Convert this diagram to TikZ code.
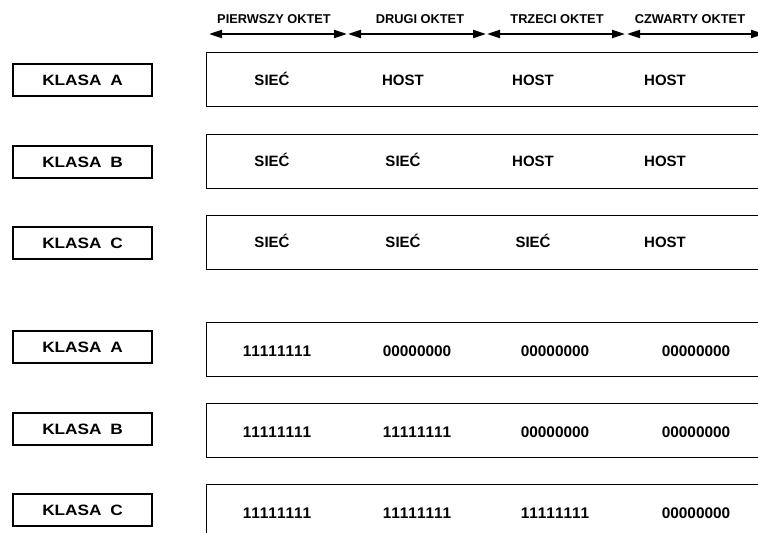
\documentclass[tikz,border=0pt]{standalone}
\usepackage{fontspec}
\setmainfont{Liberation Sans}
\usetikzlibrary{arrows.meta}
\newcommand{\klasatxt}[1]{\scalebox{1.15}[1]{KLASA\hspace{0.5em}#1}}
\newcommand{\dg}[1]{\makebox[0.556em][c]{#1}}
\newcommand{\octbits}[8]{\dg{#1}\dg{#2}\dg{#3}\dg{#4}\dg{#5}\dg{#6}\dg{#7}\dg{#8}}
\begin{document}
\begin{tikzpicture}[x=1pt,y=-1pt,
  klasa/.style={draw,line width=2.6pt,minimum width=139pt,minimum height=32pt,inner sep=0pt,font=\fontsize{15}{17}\selectfont\bfseries},
  field/.style={draw,line width=1.3pt,anchor=north west,minimum width=600pt,minimum height=54pt,inner sep=0pt},
  txt/.style={font=\fontsize{15}{17}\selectfont\bfseries,inner sep=0pt,anchor=base},
  bin/.style={font=\fontsize{15.4}{17}\selectfont\bfseries,inner sep=0pt,anchor=base},
  oct/.style={font=\fontsize{12.8}{14}\selectfont\bfseries,inner sep=0pt,anchor=base},
  octarrow/.style={line width=2pt,{Triangle[length=13pt,width=8pt]}-{Triangle[length=13pt,width=8pt]}}]
\clip (0,0) rectangle (758,533);
\fill[white] (0,0) rectangle (758,533);
% octet header
\coordinate (a0) at (209,34);
\coordinate (a1) at (347,34);
\coordinate (b0) at (348,34);
\coordinate (b1) at (486,34);
\coordinate (c0) at (487,34);
\coordinate (c1) at (625,34);
\coordinate (d0) at (627,34);
\coordinate (d1) at (764,34);
\draw[octarrow] (a0) -- (a1);
\draw[octarrow] (b0) -- (b1);
\draw[octarrow] (c0) -- (c1);
\draw[octarrow] (d0) -- (d1);
\node[oct] (o1) at (274,23) {PIERWSZY OKTET};
\node[oct] (o2) at (420,23) {DRUGI OKTET};
\node[oct] (o3) at (557,23) {TRZECI OKTET};
\node[oct] (o4) at (690,23) {CZWARTY OKTET};
% class labels
\node[klasa] (k1) at (82.5,80) {\klasatxt{A}};
\node[klasa] (k2) at (82.5,162) {\klasatxt{B}};
\node[klasa] (k3) at (82.5,243) {\klasatxt{C}};
\node[klasa] (k4) at (82.5,347) {\klasatxt{A}};
\node[klasa] (k5) at (82.5,429) {\klasatxt{B}};
\node[klasa] (k6) at (82.5,510) {\klasatxt{C}};
% fields
\node[field] (r1) at (206,52) {};
\node[field] (r2) at (206,134) {};
\node[field] (r3) at (206,215) {};
\node[field] (r4) at (206,322) {};
\node[field] (r5) at (206,403) {};
\node[field] (r6) at (206,484) {};
% texts rows 1-3
\node[txt] (t11) at (272,85.5) {SIEĆ};
\node[txt] (t12) at (403,85.5) {HOST};
\node[txt] (t13) at (533,85.5) {HOST};
\node[txt] (t14) at (665,85.5) {HOST};
\node[txt] (t21) at (272,166.5) {SIEĆ};
\node[txt] (t22) at (403,166.5) {SIEĆ};
\node[txt] (t23) at (533,166.5) {HOST};
\node[txt] (t24) at (665,166.5) {HOST};
\node[txt] (t31) at (272,247.5) {SIEĆ};
\node[txt] (t32) at (403,247.5) {SIEĆ};
\node[txt] (t33) at (533,247.5) {SIEĆ};
\node[txt] (t34) at (665,247.5) {HOST};
% binary rows
\node[bin] (b41) at (277,356) {\octbits11111111};
\node[bin] (b42) at (417,356) {\octbits00000000};
\node[bin] (b43) at (555,356) {\octbits00000000};
\node[bin] (b44) at (696,356) {\octbits00000000};
\node[bin] (b51) at (277,437) {\octbits11111111};
\node[bin] (b52) at (417,437) {\octbits11111111};
\node[bin] (b53) at (555,437) {\octbits00000000};
\node[bin] (b54) at (696,437) {\octbits00000000};
\node[bin] (b61) at (277,518) {\octbits11111111};
\node[bin] (b62) at (417,518) {\octbits11111111};
\node[bin] (b63) at (555,518) {\octbits11111111};
\node[bin] (b64) at (696,518) {\octbits00000000};
\end{tikzpicture}
\end{document}
